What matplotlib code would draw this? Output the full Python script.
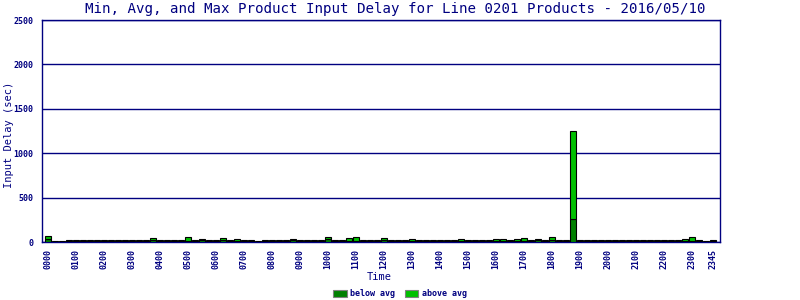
"""Min/avg/max input delay chart, line 0201, 2016/05/10 -> out.png"""
import matplotlib

matplotlib.use("Agg")
import matplotlib.pyplot as plt
import numpy as np

NAVY = "#000080"
DARK = "#008000"
LIGHT = "#00c000"
MONO = "DejaVu Sans Mono"

# 15-minute slots, 0000 .. 2345
slots = [f"{h:02d}{m:02d}" for h in range(24) for m in (0, 15, 30, 45)]

# delay below the average (dark) and the part above it (light), seconds
below = [35, 5, 5, 12, 12, 12, 12, 12, 12, 12, 12, 12, 12, 12, 12, 20,
         12, 12, 12, 12, 15, 12, 20, 12, 12, 25, 12, 15, 12, 12, 5, 12,
         12, 12, 12, 20, 12, 12, 12, 12, 30, 12, 12, 15, 15, 12, 15, 12,
         20, 12, 12, 12, 12, 12, 12, 12, 12, 12, 12, 15, 12, 12, 12, 12,
         15, 15, 12, 15, 15, 12, 25, 12, 20, 12, 12, 255, 12, 12, 12, 12,
         12, 12, 12, 12, 12, 12, 12, 12, 12, 12, 12, 15, 15, 12, 5, 12]
above = [30, 5, 5, 13, 13, 13, 13, 13, 13, 13, 13, 13, 13, 13, 13, 25,
         13, 13, 13, 13, 40, 13, 15, 13, 13, 20, 13, 20, 13, 13, 5, 13,
         13, 13, 13, 15, 13, 13, 13, 13, 25, 13, 13, 30, 45, 13, 12, 13,
         25, 13, 13, 13, 18, 13, 13, 13, 13, 13, 13, 20, 13, 13, 13, 13,
         20, 20, 13, 20, 30, 13, 10, 13, 35, 13, 13, 995, 13, 13, 13, 13,
         13, 13, 13, 13, 13, 13, 13, 13, 13, 13, 13, 15, 40, 13, 5, 13]

yticks = [0, 500, 1000, 1500, 2000, 2500]

fig = plt.figure(figsize=(8, 3), dpi=100)
ax = fig.add_axes([42 / 800, 1 - 242 / 300, 678 / 800, 222 / 300])

x = np.arange(len(slots))
ax.bar(x, below, width=0.85, color=DARK, edgecolor="black", linewidth=0.8, label="below avg", zorder=3)
ax.bar(x, above, width=0.85, bottom=below, color=LIGHT, edgecolor="black", linewidth=0.8, label="above avg", zorder=3)

ax.set_xlim(-0.86, len(slots))
ax.set_ylim(0, 2500)
ax.set_yticks(yticks)
ax.set_yticklabels([str(v) for v in yticks], family=MONO, fontsize=6, fontweight="bold", color=NAVY)
ax.yaxis.grid(True, color=NAVY, linewidth=1, zorder=1)
ax.tick_params(axis="y", length=0, pad=6)

# hourly labels plus the last slot
tick_idx = list(range(0, len(slots), 4)) + [len(slots) - 1]
ax.set_xticks(tick_idx)
ax.set_xticklabels([slots[i] for i in tick_idx], rotation=90, family=MONO,
                   fontsize=6, fontweight="bold", color=NAVY)
ax.tick_params(axis="x", length=0, pad=5)

for s in ax.spines.values():
    s.set_color(NAVY)
    s.set_linewidth(1)

fig.text(9 / 800, 1 - 135 / 300, "Input Delay (sec)", family=MONO, fontsize=7.5, color=NAVY,
         rotation=90, ha="center", va="center")
fig.text(379 / 800, 1 - 277 / 300, "Time", family=MONO, fontsize=7.5, color=NAVY, ha="center", va="center")
fig.text(395 / 800, 1 - 9 / 300, "Min, Avg, and Max Product Input Delay for Line 0201 Products - 2016/05/10",
         family=MONO, fontsize=10.2, color=NAVY, ha="center", va="center")

handles, labels = ax.get_legend_handles_labels()
leg = fig.legend(handles, labels, loc="center", bbox_to_anchor=(400 / 800, 1 - 294 / 300), ncol=2,
                 frameon=False, prop={"family": MONO, "size": 6, "weight": "bold"},
                 handlelength=1.6, handleheight=1.0, handletextpad=0.4, columnspacing=1.2)
for t in leg.get_texts():
    t.set_color(NAVY)
for h in leg.legend_handles:
    h.set_edgecolor("gray")

fig.savefig("out.png")
